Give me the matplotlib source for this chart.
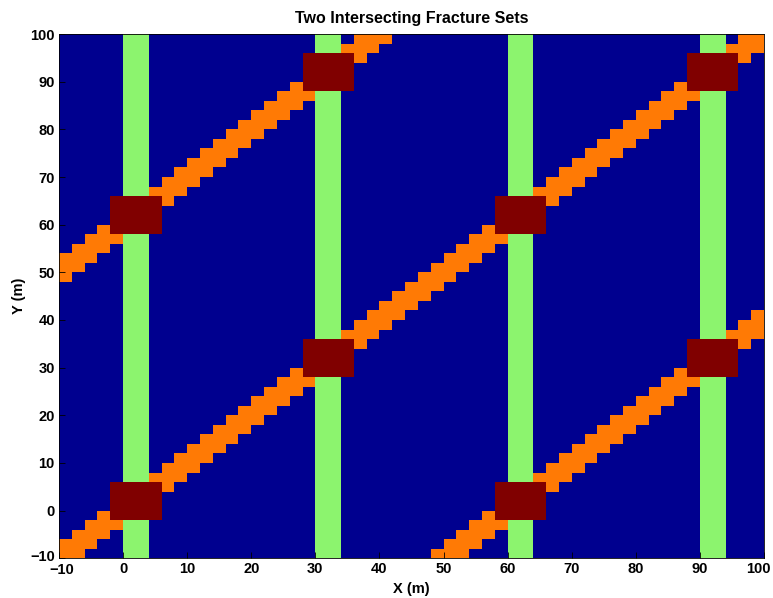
import numpy as np
import matplotlib.pyplot as plt
from matplotlib.colors import ListedColormap
from matplotlib.transforms import ScaledTranslation

# grid of 2 m cells over the model area
x_edges = np.arange(-10, 101, 2)
y_edges = np.arange(-10, 101, 2)

# set 1: vertical fractures (left edge, aperture)
set1_x = [0, 30, 60, 90]
set1_width = 4

# set 2: inclined fractures y = x + c, half width measured along y
set2_c = [-60, 0, 60]
set2_half = 2

# intersection zones (centre x, centre y), half size
cross_x = [2, 32, 62, 92, 2, 32, 62, 92]
cross_y = [2, 32, 62, 92, 62, 92, 2, 32]
cross_half = 4

xc = x_edges[:-1]
yc = y_edges[:-1]
X, Y = np.meshgrid(xc, yc)
codes = np.zeros(X.shape)

for c in set2_c:
    codes[np.abs(Y - X - c) <= set2_half] = 2
for x0 in set1_x:
    codes[(X >= x0) & (X < x0 + set1_width)] = 1
for cx, cy in zip(cross_x, cross_y):
    codes[(X >= cx - cross_half) & (X < cx + cross_half) &
          (Y >= cy - cross_half) & (Y < cy + cross_half)] = 3

cmap = ListedColormap(['#00008F', '#8CF46E', '#FF7A05', '#800000'])

plt.rcParams['font.family'] = ['Liberation Sans', 'DejaVu Sans']
fig = plt.figure(figsize=(7.73, 5.98), dpi=100)
ax = fig.add_axes([0.0763, 0.0664, 0.912, 0.8767])
ax.pcolormesh(x_edges, y_edges, codes, cmap=cmap, vmin=-0.5, vmax=3.5)
ax.set_xlim(-10, 100)
ax.set_ylim(-10, 100)
ax.set_xticks(np.arange(-10, 101, 10))
ax.set_yticks(np.arange(-10, 101, 10))
ax.tick_params(direction='in', length=4, width=0.6, labelsize=10.5, pad=3)
for lab in ax.get_xticklabels() + ax.get_yticklabels():
    lab.set_fontweight('bold')

# nudge the corner and right-edge labels so they stay clear
def nudge(lab, dx, dy):
    lab.set_transform(lab.get_transform() + ScaledTranslation(dx, dy, fig.dpi_scale_trans))

nudge(ax.get_xticklabels()[-1], -0.06, 0)
nudge(ax.get_xticklabels()[0], 0.03, -0.01)
nudge(ax.get_yticklabels()[0], 0, 0.03)

for s in ax.spines.values():
    s.set_linewidth(0.6)

ax.set_title('Two Intersecting Fracture Sets', fontsize=11.5, fontweight='bold',
             family=['Liberation Sans Narrow', 'Liberation Sans'], pad=8)
ax.set_xlabel('X (m)', fontsize=10.5, fontweight='bold', labelpad=3)
ax.set_ylabel('Y (m)', fontsize=10.5, fontweight='bold', labelpad=3)

fig.savefig('out.png', dpi=100)
